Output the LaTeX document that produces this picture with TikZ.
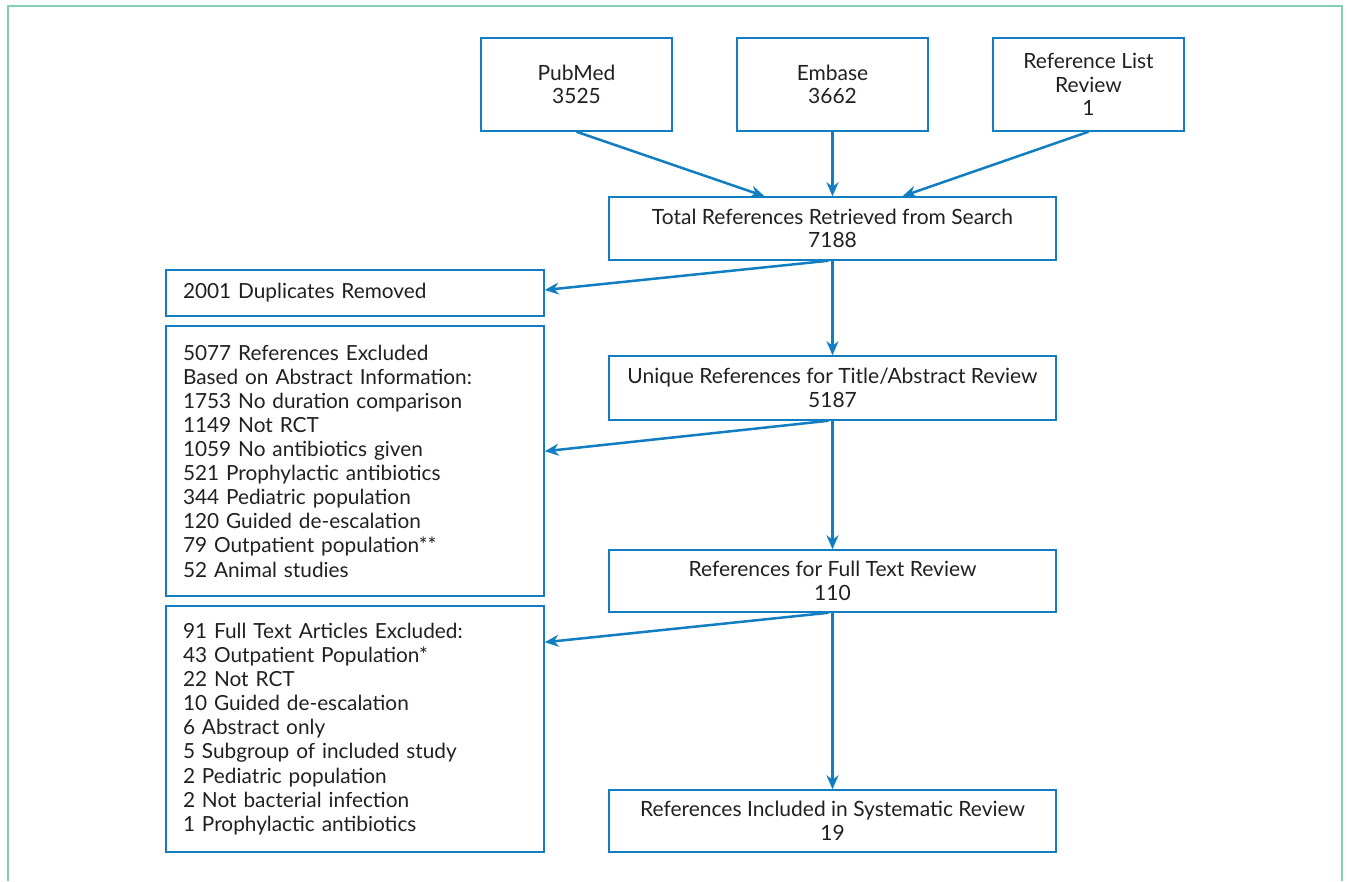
\documentclass[tikz,border=0pt]{standalone}
\usepackage{fontspec}
\setmainfont{Lato}
\usetikzlibrary{arrows.meta}
\definecolor{flowblue}{RGB}{16,126,193}
\definecolor{frameteal}{RGB}{128,206,182}
\definecolor{inkgray}{RGB}{35,31,32}

\tikzset{
  box/.style = {draw = flowblue, line width = 1.5pt, inner sep = 0pt, align = center,
    text = inkgray, font = \fontsize{21}{23.5}\selectfont},
  listbox/.style = {box, align = left, inner xsep = 17pt, text width = 344pt,
    font = \fontsize{20.8}{24.1}\selectfont},
  flow/.style = {draw = flowblue, line width = 2.5pt, -{Stealth[length = 14pt, width = 12pt]}}
}

\begin{document}
\begin{tikzpicture}
  [x = 1pt, y = -1pt]
  \useasboundingbox (0,0) rectangle (1349,881);
  \draw[color = frameteal, line width = 2.5pt] (8,881) -- (8,6) -- (1342,6) -- (1342,881);
  % sources
  \foreach \name/\x/\txt in {pubmed/576.5/{PubMed\\3525}, embase/832.5/{Embase\\3662},
      reflist/1088.5/{Reference List\\Review\\1}}{
    \node[box, minimum width = 191pt, minimum height = 93pt] (\name) at (\x,84.5) {\txt};
  }
  % main column
  \node[box, minimum width = 447pt, minimum height = 63pt] (total) at (832.5,228.5)
    {Total References Retrieved from Search\\7188};
  \node[box, minimum width = 447pt, minimum height = 64pt] (unique) at (832.5,388)
    {Unique References for Title/Abstract Review\\5187};
  \node[box, minimum width = 447pt, minimum height = 62pt] (fulltext) at (832.5,581)
    {References for Full Text Review\\110};
  \node[box, minimum width = 447pt, minimum height = 62pt] (included) at (832.5,821)
    {References Included in Systematic Review\\19};
  % exclusions
  \node[listbox, minimum height = 46pt] (dup) at (355,293) {2001 Duplicates Removed};
  \node[listbox, minimum height = 270pt] (absexcl) at (355,461)
    {5077 References Excluded\\Based on Abstract Information:\\1753 No duration comparison\\
     1149 Not RCT\\1059 No antibiotics given\\521 Prophylactic antibiotics\\
     344 Pediatric population\\120 Guided de-escalation\\79 Outpatient population**\\
     52 Animal studies};
  \node[listbox, minimum height = 246pt] (fullexcl) at (355,729)
    {91 Full Text Articles Excluded:\\43 Outpatient Population*\\22 Not RCT\\
     10 Guided de-escalation\\6 Abstract only\\5 Subgroup of included study\\
     2 Pediatric population\\2 Not bacterial infection\\1 Prophylactic antibiotics};
  % arrows
  \draw[flow] (pubmed.south) -- ([xshift = -68pt]total.north);
  \draw[flow] (embase.south) -- (total.north);
  \draw[flow] (reflist.south) -- ([xshift = 70pt]total.north);
  \draw[flow] (total.south) -- (unique.north);
  \draw[flow] (unique.south) -- (fulltext.north);
  \draw[flow] (fulltext.south) -- (included.north);
  \draw[flow] ([xshift = -4pt]total.south) -- ([yshift = 3pt]dup.east);
  \draw[flow] ([xshift = -4pt]unique.south) -- ([yshift = -126pt]absexcl.north east);
  \draw[flow] ([xshift = -4pt]fulltext.south) -- ([yshift = -37pt]fullexcl.north east);
\end{tikzpicture}
\end{document}
